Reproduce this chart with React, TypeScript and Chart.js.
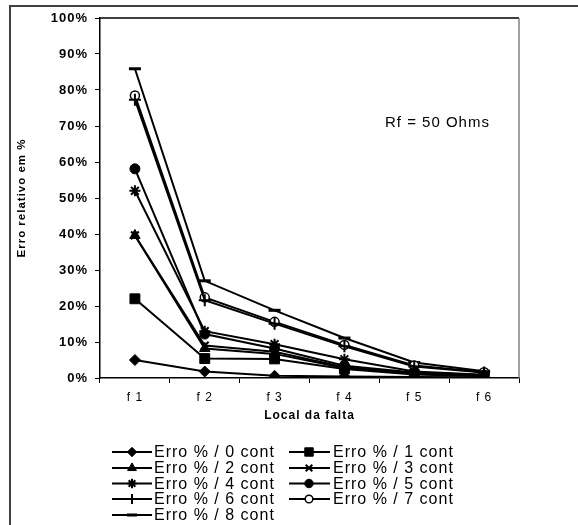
import { useEffect, useRef } from "react";
import { Chart, registerables, PointElement } from "chart.js";

Chart.register(...registerables);

const categories = ["f 1", "f 2", "f 3", "f 4", "f 5", "f 6"];
const seriesNames = [
  "Erro % / 0 cont",
  "Erro % / 1 cont",
  "Erro % / 2 cont",
  "Erro % / 3 cont",
  "Erro % / 4 cont",
  "Erro % / 5 cont",
  "Erro % / 6 cont",
  "Erro % / 7 cont",
  "Erro % / 8 cont",
];
const erro0 = [5.0, 1.8, 0.6, 0.4, 0.3, 0.2];
const erro1 = [22.0, 5.4, 5.3, 2.5, 1.0, 0.5];
const erro2 = [39.6, 8.2, 6.7, 2.8, 1.2, 0.6];
const erro3 = [39.6, 9.0, 7.3, 3.0, 1.3, 0.7];
const erro4 = [52.0, 13.0, 9.4, 5.2, 1.8, 0.9];
const erro5 = [58.1, 12.2, 8.2, 3.4, 1.5, 0.8];
const erro6 = [77.3, 21.6, 15.1, 8.8, 3.2, 1.5];
const erro7 = [78.5, 22.4, 15.6, 9.2, 3.5, 1.6];
const erro8 = [85.9, 27.0, 18.8, 11.1, 4.3, 1.9];
const seriesValues = [erro0, erro1, erro2, erro3, erro4, erro5, erro6, erro7, erro8];
const yTickValues = [0, 10, 20, 30, 40, 50, 60, 70, 80, 90, 100];
const annotation = "Rf = 50 Ohms";
const xTitle = "Local da falta";
const yTitle = "Erro relativo em %";

const FONT = "'Liberation Sans', Arial, sans-serif";

type Mk = { style: any; radius: number; bw: number; bg: string };
const markers: Mk[] = [
  { style: "rectRot", radius: 5.5, bw: 1, bg: "#000" },
  { style: "rect", radius: 7, bw: 1, bg: "#000" },
  { style: "triangle", radius: 6, bw: 1, bg: "#000" },
  { style: "crossRot", radius: 5.5, bw: 2, bg: "#000" },
  { style: "star", radius: 5.5, bw: 2, bg: "#000" },
  { style: "circle", radius: 5, bw: 1, bg: "#000" },
  { style: "cross", radius: 6, bw: 2, bg: "#000" },
  { style: "circle", radius: 4.5, bw: 1.5, bg: "#fff" },
  { style: "line", radius: 6, bw: 3, bg: "#000" },
];

function drawMarker(ctx: CanvasRenderingContext2D, m: Mk, x: number, y: number) {
  const pe: any = new (PointElement as any)({});
  pe.x = x;
  pe.y = y;
  pe.options = {
    pointStyle: m.style,
    radius: m.radius,
    borderWidth: m.bw,
    backgroundColor: m.bg,
    borderColor: "#000",
    rotation: 0,
    hitRadius: 0,
    hoverRadius: 0,
  };
  pe.draw(ctx, { left: -1000, top: -1000, right: 5000, bottom: 5000 });
}

const extrasPlugin = {
  id: "extras",
  beforeDraw(chart: any) {
    const ctx = chart.ctx as CanvasRenderingContext2D;
    (ctx as any).letterSpacing = "1px";
    ctx.save();
    ctx.strokeStyle = "#404040";
    ctx.lineWidth = 2;
    ctx.beginPath();
    ctx.moveTo(10, 525);
    ctx.lineTo(10, 6);
    ctx.lineTo(578, 6);
    ctx.stroke();
    ctx.restore();
  },
  afterDraw(chart: any) {
    const ctx = chart.ctx as CanvasRenderingContext2D;
    const a = chart.chartArea;
    ctx.save();
    ctx.strokeStyle = "#000";
    ctx.lineWidth = 1.5;
    ctx.beginPath();
    ctx.moveTo(a.left, a.top);
    ctx.lineTo(a.right, a.top);
    ctx.stroke();
    ctx.strokeStyle = "#808080";
    ctx.lineWidth = 1.5;
    ctx.beginPath();
    ctx.moveTo(a.right, a.top);
    ctx.lineTo(a.right, a.bottom);
    ctx.stroke();

    // annotation
    (ctx as any).letterSpacing = "1px";
    ctx.fillStyle = "#000";
    ctx.font = `15px ${FONT}`;
    ctx.textBaseline = "middle";
    ctx.textAlign = "left";
    ctx.fillText(annotation, 385, 123);

    // legend
    const rowY = [452, 468, 483.5, 499, 515];
    const cols = [
      { x0: 112, x1: 152, mx: 132, tx: 154 },
      { x0: 289, x1: 330, mx: 309, tx: 333 },
    ];
    seriesNames.forEach((name, i) => {
      const c = cols[i % 2];
      const y = rowY[Math.floor(i / 2)];
      ctx.strokeStyle = "#000";
      ctx.lineWidth = 2;
      ctx.beginPath();
      ctx.moveTo(c.x0, y);
      ctx.lineTo(c.x1, y);
      ctx.stroke();
      drawMarker(ctx, { ...markers[i], radius: markers[i].radius * 0.85 }, c.mx, y);
      (ctx as any).letterSpacing = "1px";
      ctx.fillStyle = "#000";
      ctx.font = `16px ${FONT}`;
      ctx.textBaseline = "middle";
      ctx.textAlign = "left";
      ctx.fillText(name, c.tx, y + 1);
    });
    ctx.restore();
  },
};

export default function App() {
  const ref = useRef<HTMLCanvasElement | null>(null);
  useEffect(() => {
    if (!ref.current) return;
    const datasets = seriesValues.map((vals, i) => ({
      label: seriesNames[i],
      data: vals,
      borderColor: "#000",
      backgroundColor: markers[i].bg,
      borderWidth: 2,
      pointStyle: markers[i].style,
      pointRadius: markers[i].radius,
      pointBorderWidth: markers[i].bw,
      pointBackgroundColor: markers[i].bg,
      pointBorderColor: "#000",
      tension: 0,
      fill: false,
    }));
    const chart = new Chart(ref.current, {
      type: "line",
      data: { labels: categories, datasets },
      plugins: [extrasPlugin],
      options: {
        animation: false,
        responsive: true,
        maintainAspectRatio: false,
        layout: { padding: { left: 0, top: 18, right: 59, bottom: 97 } },
        plugins: { legend: { display: false }, tooltip: { enabled: false } },
        scales: {
          x: {
            type: "category",
            offset: true,
            grid: {
              display: true,
              offset: true,
              drawOnChartArea: false,
              drawTicks: true,
              tickLength: 5,
              color: "#000",
              lineWidth: 1,
            },
            border: { display: true, color: "#000", width: 1.5 },
            ticks: {
              color: "#000",
              font: { family: FONT, size: 12 },
              padding: 7,
              maxRotation: 0,
            },
            title: {
              display: true,
              text: xTitle,
              color: "#000",
              font: { family: FONT, size: 12, weight: "bold" },
              padding: { top: 0, bottom: 5 },
            },
            afterFit: (s: any) => {
              s.height = 50;
            },
          },
          y: {
            type: "linear",
            min: 0,
            max: 100,
            afterBuildTicks: (s: any) => {
              s.ticks = yTickValues.map((v) => ({ value: v }));
            },
            grid: {
              display: true,
              drawOnChartArea: false,
              drawTicks: true,
              tickLength: 5,
              color: "#000",
              lineWidth: 1,
            },
            border: { display: true, color: "#000", width: 1.5 },
            ticks: {
              color: "#000",
              font: { family: FONT, size: 13, weight: "bold" },
              padding: 7,
              callback: (v: any) => `${v}%`,
            },
            title: {
              display: true,
              text: yTitle,
              color: "#000",
              font: { family: FONT, size: 11.5, weight: "bold" },
              padding: { top: 15, bottom: 0 },
            },
            afterFit: (s: any) => {
              s.width = 100;
            },
          },
        },
      },
    });
    return () => chart.destroy();
  }, []);
  return (
    <div style={{ position: "absolute", left: 0, top: 0, width: 578, height: 525 }}>
      <canvas ref={ref} />
    </div>
  );
}
